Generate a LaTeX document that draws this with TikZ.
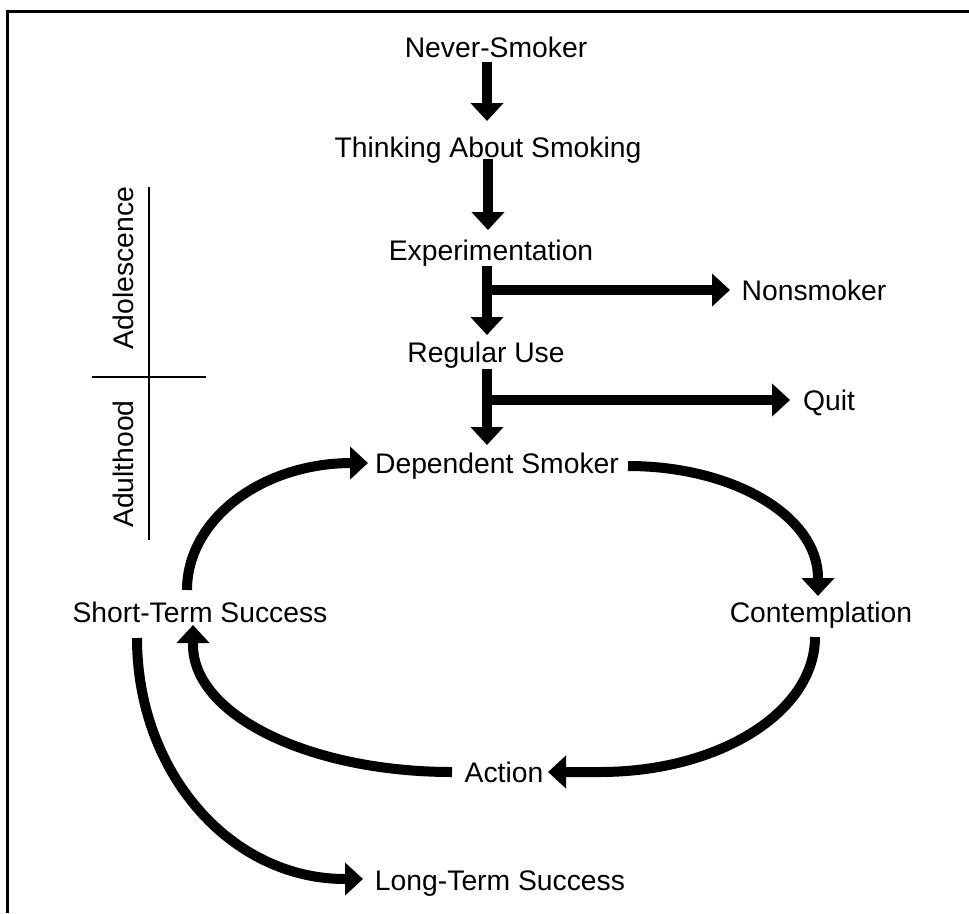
\documentclass[tikz,border=0pt]{standalone}
\usepackage{fontspec}
\setmainfont{Liberation Sans}
\usetikzlibrary{arrows.meta,calc}
\tikzset{
  lbl/.style={font=\fontsize{28.3pt}{34pt}\selectfont, inner sep=0pt, anchor=base},
  bigarrow/.style={line width=10pt, -{Triangle[length=18pt,width=32pt]}},
  thinline/.style={line width=2pt},
  frameline/.style={line width=3pt}
}
\begin{document}
\begin{tikzpicture}[x=1pt,y=-1pt]
\useasboundingbox (0,0) rectangle (969,913);
% frame (open right and bottom)
\draw[frameline] (7,913) -- (7,11) -- (969,11);

% nodes
\node[lbl] (ns)   at (496,57)  {Never-Smoker};
\node[lbl] (tas)  at (488,157) {Thinking About Smoking};
\node[lbl] (exp)  at (491,260) {Experimentation};
\node[lbl] (non)  at (814,300) {Nonsmoker};
\node[lbl] (ru)   at (486,362) {Regular Use};
\node[lbl] (quit) at (829,410) {Quit};
\node[lbl] (ds)   at (497,473) {Dependent Smoker};
\node[lbl] (cont) at (821,622) {Contemplation};
\node[lbl] (sts)  at (200,622) {Short-Term Success};
\node[lbl] (act)  at (504,782) {Action};
\node[lbl] (lts)  at (500,890) {Long-Term Success};
\node[lbl,rotate=90] (adol) at (133,268) {Adolescence};
\node[lbl,rotate=90] (adul) at (133,464) {Adulthood};

% age divider
\draw[thinline] ($(adol.base)+(16,-81)$) -- ($(adul.base)+(16,76)$);
\draw[thinline] ($(adol.base)+(-41,109)$) -- ($(adol.base)+(73,109)$);

% vertical chain
\draw[bigarrow] ($(ns.base)+(-9,5)$) -- ($(tas.base)+(-1,-36)$);
\draw[bigarrow] ($(tas.base)+(0,2)$) -- ($(exp.base)+(-3,-30)$);
\draw[bigarrow] ($(exp.base)+(-4,6)$) -- ($(ru.base)+(1,-27)$);
\draw[bigarrow] ($(ru.base)+(1,7)$) -- ($(ds.base)+(-10,-28)$);
% branches
\draw[bigarrow] ($(exp.base)+(-4,30)$) -- ($(non.base)+(-84,-10)$);
\draw[bigarrow] ($(ru.base)+(1,38)$) -- ($(quit.base)+(-39,-10)$);

% cycle
\draw[bigarrow] ($(ds.base)+(131,-7)$) .. controls +(105,0) and +(0,-62) .. ($(cont.base)+(-3,-44)$) -- ($(cont.base)+(-3,-26)$);
\draw[bigarrow] ($(cont.base)+(-6,15)$) .. controls +(0,75) and +(119,0) .. ($(act.base)+(96,-10)$) -- ($(act.base)+(44,-10)$);
\draw[bigarrow] ($(act.base)+(-52,-10)$) .. controls +(-143,0) and +(0,70) .. ($(sts.base)+(-7,23)$) -- ($(sts.base)+(-7,3)$);
\draw[bigarrow] ($(sts.base)+(-13,-32)$) .. controls +(0,-70) and +(-91,0) .. ($(ds.base)+(-145,-10)$) -- ($(ds.base)+(-129,-10)$);
\draw[bigarrow] ($(sts.base)+(-63,16)$) .. controls +(0,134) and +(-115,0) .. ($(lts.base)+(-155,-11)$) -- ($(lts.base)+(-137,-11)$);
\end{tikzpicture}
\end{document}
